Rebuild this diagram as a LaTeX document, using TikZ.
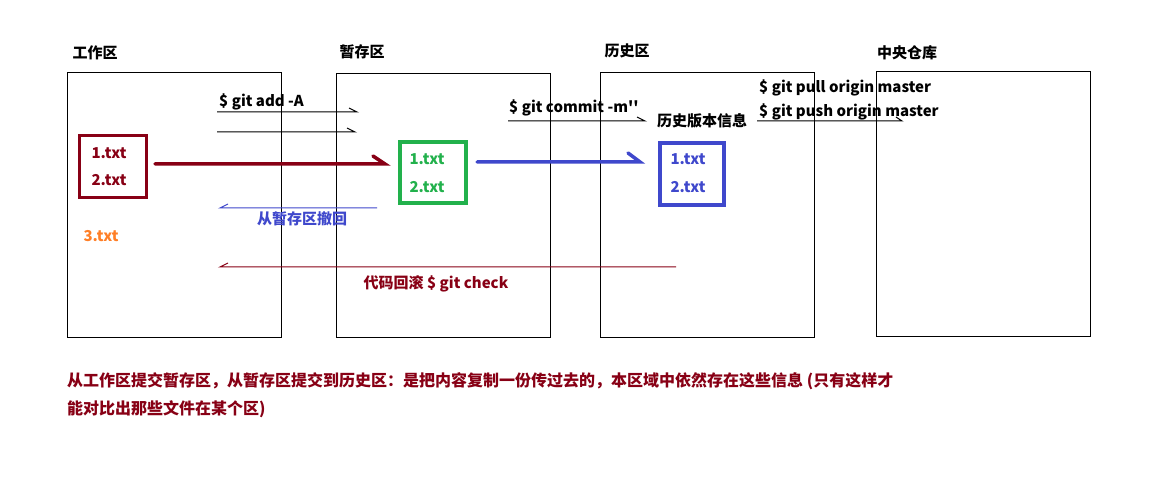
\documentclass[tikz,border=0pt]{standalone}
\usepackage{fontspec}
\setmainfont{Noto Sans CJK SC}[Ligatures=TeXOff]
\definecolor{dred}{HTML}{880015}
\definecolor{pgreen}{HTML}{22B14C}
\definecolor{pblue}{HTML}{3F48CC}
\definecolor{porange}{HTML}{FF7F27}
\tikzset{
  area/.style={draw=black, line width=1pt, minimum width=214pt, minimum height=265pt, anchor=north west, inner sep=0pt},
  lbl/.style={font=\fontsize{15}{18}\selectfont\bfseries, inner sep=0pt},
  note/.style={font=\fontsize{16}{20}\selectfont\bfseries, inner sep=0pt, text=dred, anchor=west},
  filebox/.style={draw, line width=3.5pt, inner sep=0pt},
  thin/.style={line width=1pt},
  thick/.style={line width=3.5pt, line cap=round},
}
\begin{document}
\begin{tikzpicture}[x=1pt, y=-1pt]
\useasboundingbox[fill=white] (0,0) rectangle (1170,486);
% areas
\node[area] (work) at (67,72) {};
\node[area, minimum height=264pt] (stage) at (336,73) {};
\node[area] (hist) at (600,72) {};
\node[area] (remote) at (876,71) {};
% area titles
\node[lbl] (tw) at (95,53) {工作区};
\node[lbl] (ts) at (362,52) {暂存区};
\node[lbl] (th) at (627,51) {历史区};
\node[lbl] (tr) at (907,53) {中央仓库};
% file boxes
\node[filebox, draw=dred, minimum width=67pt, minimum height=62pt] (rf) at (113,166.5) {};
\node[lbl, text=dred] (r1) at (109,153) {1.txt};
\node[lbl, text=dred] (r2) at (109,180) {2.txt};
\node[filebox, draw=pgreen, minimum width=66pt, minimum height=61pt] (gf) at (433,172.5) {};
\node[lbl, text=pgreen] (g1) at (427,159) {1.txt};
\node[lbl, text=pgreen] (g2) at (427,187) {2.txt};
\node[filebox, draw=pblue, minimum width=64pt, minimum height=62pt] (bf) at (692,174) {};
\node[lbl, text=pblue] (b1) at (688,159) {1.txt};
\node[lbl, text=pblue] (b2) at (688,187) {2.txt};
\node[lbl, text=porange] (f3) at (101,236) {3.txt};
% command labels
\node[lbl, anchor=west] (cadd) at (219,102) {\$ git add -A};
\node[lbl, anchor=west] (ccommit) at (509,108) {\$ git commit -m''};
\node[lbl, anchor=west] (hinfo) at (657,121) {历史版本信息};
\node[lbl, anchor=west] (cpull) at (759,88) {\$ git pull origin master};
\node[lbl, anchor=west] (cpush) at (759,112) {\$ git push origin master};
\node[lbl, text=pblue] (undo) at (302,219) {从暂存区撤回};
\node[lbl, text=dred] (rollback) at (436,284) {代码回滚 \$ git check};
% bottom note
\node[note] (n1) at (67,381) {从工作区提交暂存区，从暂存区提交到历史区：是把内容复制一份传过去的，本区域中依然存在这些信息 (只有这样才};
\node[note] (n2) at (67,409) {能对比出那些文件在某个区)};
% coordinates for connectors
\coordinate (ra1) at (155,164); \coordinate (ra2) at (385,164);
\coordinate (ba1) at (477,162); \coordinate (ba2) at (640,162);
\coordinate (a1s) at (217,112); \coordinate (a1e) at (357,112);
\coordinate (a2s) at (217,132); \coordinate (a2e) at (355,132);
\coordinate (cms) at (508,121); \coordinate (cme) at (645,121);
\coordinate (pss) at (757,121); \coordinate (pse) at (902,121);
\coordinate (uds) at (377,208); \coordinate (ude) at (220,208);
\coordinate (rbs) at (676,267); \coordinate (rbe) at (220,267);
% thick arrows
\draw[thick, dred] (ra1) -- (ra2) -- ++(-12,-8);
\draw[thick, pblue] (ba1) -- (ba2) -- ++(-12,-9);
% thin arrows
\draw[thin] (a1s) -- (a1e) -- ++(-8,-4);
\draw[thin] (a2s) -- (a2e) -- ++(-8,-4);
\draw[thin] (cms) -- (cme) -- ++(-8,-4);
\draw[thin] (pss) -- (pse) -- ++(-6,-4);
\draw[thin, pblue] (uds) -- (ude) -- ++(8,-4);
\draw[thin, dred] (rbs) -- (rbe) -- ++(8,-4);
\end{tikzpicture}
\end{document}
